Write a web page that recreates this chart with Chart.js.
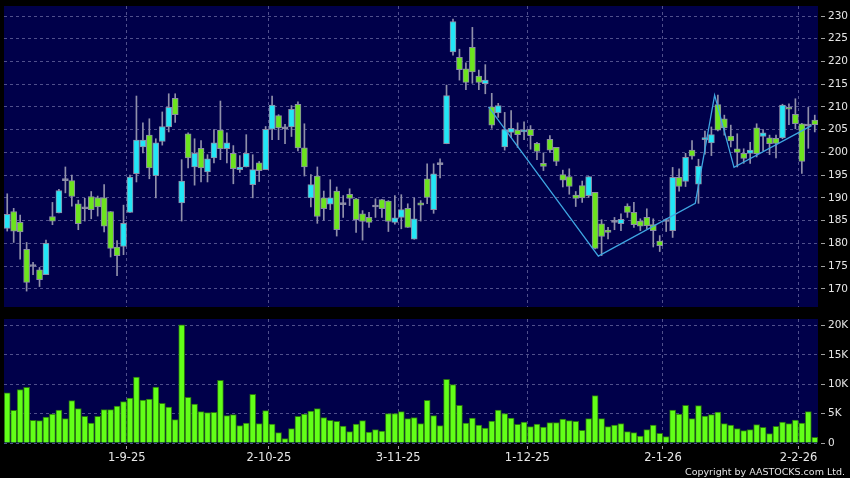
<!DOCTYPE html>
<html>
<head>
<meta charset="utf-8">
<script src="https://cdn.jsdelivr.net/npm/chart.js@4.4.1/dist/chart.umd.min.js"></script>
<style>
  html, body { margin: 0; padding: 0; background: #000; }
  #wrap { position: relative; width: 850px; height: 478px; overflow: hidden; background: #000; }
  #priceChart { position: absolute; left: 0; top: 0; }
  #volChart { position: absolute; left: 0; top: 310px; }
  #copy { position: absolute; right: 5px; top: 466px; line-height: 11px;
          color: #e4e4e4; font-family: "DejaVu Sans"; font-size: 9.5px; white-space: nowrap; }
</style>
</head>
<body>
<div id="wrap">
  <canvas id="priceChart" width="850" height="310"></canvas>
  <canvas id="volChart" width="850" height="168"></canvas>
  <div id="copy">Copyright by AASTOCKS.com Ltd.</div>
</div>
<script>
// trading days (D-M-YY)
const dates = [
  "6-8-25", "7-8-25", "8-8-25", "11-8-25", "12-8-25", "13-8-25", "14-8-25", "15-8-25", "18-8-25", "19-8-25",
  "20-8-25", "21-8-25", "22-8-25", "25-8-25", "26-8-25", "27-8-25", "28-8-25", "29-8-25",
  "1-9-25", "2-9-25", "3-9-25", "4-9-25", "5-9-25", "8-9-25", "9-9-25", "10-9-25", "11-9-25", "12-9-25",
  "15-9-25", "16-9-25", "17-9-25", "18-9-25", "19-9-25", "22-9-25", "23-9-25", "24-9-25", "25-9-25", "26-9-25",
  "29-9-25", "30-9-25",
  "2-10-25", "3-10-25", "6-10-25", "8-10-25", "9-10-25", "10-10-25", "13-10-25", "14-10-25", "15-10-25", "16-10-25",
  "17-10-25", "20-10-25", "21-10-25", "22-10-25", "23-10-25", "24-10-25", "27-10-25", "28-10-25", "30-10-25", "31-10-25",
  "3-11-25", "4-11-25", "5-11-25", "6-11-25", "7-11-25", "10-11-25", "11-11-25", "12-11-25", "13-11-25", "14-11-25",
  "17-11-25", "18-11-25", "19-11-25", "20-11-25", "21-11-25", "24-11-25", "25-11-25", "26-11-25", "27-11-25", "28-11-25",
  "1-12-25", "2-12-25", "3-12-25", "4-12-25", "5-12-25", "8-12-25", "9-12-25", "10-12-25", "11-12-25", "12-12-25",
  "15-12-25", "16-12-25", "17-12-25", "18-12-25", "19-12-25", "22-12-25", "23-12-25", "24-12-25", "29-12-25", "30-12-25",
  "31-12-25",
  "2-1-26", "5-1-26", "6-1-26", "7-1-26", "8-1-26", "9-1-26", "12-1-26", "13-1-26", "14-1-26", "15-1-26",
  "16-1-26", "19-1-26", "20-1-26", "21-1-26", "22-1-26", "23-1-26", "26-1-26", "27-1-26", "28-1-26", "29-1-26",
  "30-1-26",
  "2-2-26", "3-2-26", "4-2-26", "5-2-26"
];

const tickDates = ["1-9-25", "2-10-25", "3-11-25", "1-12-25", "2-1-26", "2-2-26"];
const priceTicks = [170, 175, 180, 185, 190, 195, 200, 205, 210, 215, 220, 225, 230];
const volTicks = [0, 5000, 10000, 15000, 20000];

const opens = [
  183.3, 187.0, 184.6, 178.7, 174.9, 174.2, 173.1, 185.9, 186.7, 193.8,
  193.8, 188.7, 187.6, 190.3, 190.0, 190.0, 187.0, 179.2, 179.3, 186.8,
  195.3, 201.2, 203.8, 194.9, 202.4, 205.6, 211.9, 188.9, 204.1, 196.8,
  200.9, 195.7, 198.8, 204.9, 200.8, 199.8, 196.2, 196.8, 192.9, 197.7,
  196.2, 205.1, 208.1, 205.2, 205.6, 210.6, 201.0, 190.0, 194.8, 190.0,
  188.6, 191.5, 188.5, 190.8, 189.8, 186.5, 185.7, 188.0, 189.6, 189.3,
  184.6, 185.7, 187.7, 180.9, 188.9, 194.2, 187.4, 197.3, 201.9, 222.1,
  220.9, 218.4, 223.1, 216.8, 215.1, 210.0, 208.7, 201.2, 204.4, 204.9,
  204.5, 205.1, 202.0, 197.6, 202.9, 201.1, 195.1, 194.7, 190.6, 192.7,
  190.5, 191.2, 184.3, 182.9, 184.6, 184.3, 188.2, 186.8, 184.9, 185.7,
  184.1, 180.5, 184.8, 182.8, 194.5, 193.6, 200.5, 193.0, 202.8, 202.1,
  210.5, 207.4, 203.6, 200.8, 199.8, 199.8, 205.4, 203.5, 203.2, 203.1,
  203.2, 209.9, 208.4, 206.3, 205.8, 207.1
];
const highs = [
  190.9, 187.7, 186.2, 180.2, 175.8, 174.7, 180.7, 189.0, 191.9, 196.8,
  195.0, 189.5, 189.9, 191.4, 190.4, 192.9, 187.0, 180.6, 188.4, 195.0,
  212.4, 206.5, 207.4, 203.0, 208.9, 212.9, 212.9, 198.4, 204.3, 203.0,
  202.6, 199.5, 205.0, 211.3, 204.3, 201.5, 199.3, 203.9, 199.5, 198.0,
  205.7, 212.4, 208.3, 206.2, 210.3, 211.1, 206.3, 195.1, 196.8, 191.5,
  194.0, 192.4, 190.5, 192.0, 189.9, 187.2, 186.8, 189.8, 189.7, 189.4,
  190.5, 190.7, 188.7, 190.0, 189.4, 197.5, 197.5, 198.6, 214.8, 229.3,
  222.7, 219.7, 227.5, 218.1, 219.3, 213.0, 210.8, 208.8, 209.2, 206.5,
  206.7, 205.9, 202.2, 199.9, 203.7, 201.1, 196.1, 196.4, 191.4, 193.7,
  194.7, 191.2, 185.2, 183.5, 185.7, 186.5, 188.7, 189.0, 185.4, 187.6,
  185.4, 181.7, 185.4, 196.7, 196.4, 199.8, 202.6, 198.5, 204.7, 205.6,
  212.6, 208.2, 206.0, 204.1, 200.8, 202.2, 206.3, 205.0, 203.8, 203.8,
  210.6, 210.7, 211.8, 206.4, 209.9, 208.2
];
const lows = [
  182.7, 180.2, 176.5, 169.5, 173.1, 170.5, 173.1, 184.1, 186.7, 191.1,
  188.2, 183.0, 184.9, 185.4, 186.0, 182.5, 177.0, 172.9, 177.5, 186.8,
  193.5, 199.9, 194.2, 190.0, 201.6, 204.5, 206.6, 184.9, 196.6, 192.8,
  193.5, 193.5, 197.7, 198.4, 197.7, 193.1, 195.6, 196.8, 190.0, 193.6,
  196.2, 202.8, 202.8, 201.9, 203.5, 200.3, 194.8, 188.0, 184.4, 185.1,
  187.4, 181.6, 185.7, 188.3, 182.4, 180.7, 183.5, 185.7, 185.7, 182.6,
  184.2, 183.2, 183.5, 180.9, 184.9, 188.7, 186.6, 194.4, 201.9, 221.4,
  215.9, 213.8, 215.2, 213.8, 212.9, 205.3, 207.7, 200.5, 203.3, 201.1,
  202.8, 200.7, 198.4, 196.0, 200.0, 197.1, 192.4, 190.8, 188.1, 189.0,
  190.1, 178.8, 177.3, 181.0, 183.0, 182.8, 185.7, 183.5, 182.8, 183.2,
  179.2, 178.2, 182.6, 181.3, 191.5, 192.5, 198.5, 188.8, 199.6, 199.3,
  204.7, 203.8, 201.2, 196.8, 197.6, 197.6, 199.0, 200.4, 199.5, 198.8,
  203.0, 206.1, 205.2, 195.4, 200.9, 204.5
];
const closes = [
  186.4, 182.7, 182.5, 171.4, 174.9, 172.0, 180.0, 184.9, 191.6, 193.8,
  190.3, 184.3, 187.6, 187.4, 188.0, 183.8, 178.9, 177.3, 184.4, 194.6,
  202.7, 202.7, 196.6, 202.1, 205.7, 209.9, 208.3, 193.7, 198.8, 199.8,
  196.6, 198.6, 202.1, 200.8, 202.1, 196.4, 196.8, 199.8, 196.2, 196.0,
  205.1, 210.4, 205.4, 205.2, 209.5, 201.0, 196.8, 192.9, 185.9, 187.6,
  190.0, 183.0, 188.5, 189.9, 185.2, 184.8, 184.6, 188.0, 187.6, 184.8,
  185.6, 187.4, 183.5, 185.4, 188.4, 190.1, 195.3, 197.3, 212.5, 228.8,
  218.2, 215.4, 217.7, 215.4, 215.9, 206.0, 210.3, 205.0, 205.3, 203.9,
  204.8, 203.7, 200.2, 196.9, 200.5, 198.0, 193.9, 192.5, 189.9, 190.0,
  194.7, 178.9, 181.5, 182.4, 184.6, 185.3, 186.8, 184.1, 183.8, 183.9,
  182.8, 179.5, 184.8, 194.5, 192.5, 198.9, 199.2, 197.0, 203.2, 203.9,
  204.9, 205.4, 202.5, 200.0, 198.7, 200.5, 199.7, 204.3, 201.9, 202.0,
  210.4, 209.5, 206.3, 198.0, 205.8, 206.1
];
const volumes = [
  8550, 5550, 9070, 9460, 3850, 3800, 4420, 4930, 5610, 4140,
  7200, 5840, 4530, 3400, 4530, 5670, 5670, 6290, 7030, 7650,
  11220, 7310, 7480, 9520, 6740, 6120, 3970, 20100, 7760, 6630,
  5330, 5160, 5210, 10650, 4650, 4820, 2950, 3400, 8270, 3290,
  5500, 3230, 1760, 740, 2440, 4530, 4930, 5440, 5840, 4310,
  3850, 3680, 2890, 1930, 3230, 3800, 1870, 2270, 2040, 4990,
  4990, 5330, 4140, 4310, 3290, 7250, 4650, 2950, 10820, 9920,
  6400, 3400, 4250, 3060, 2550, 3740, 5610, 4990, 4250, 3170,
  3570, 2780, 3230, 2720, 3460, 3460, 4080, 3800, 3680, 2150,
  4140, 8050, 4140, 2780, 3060, 3290, 1930, 1760, 1190, 2270,
  3060, 1640, 1080, 5610, 4930, 6400, 4140, 6350, 4590, 4820,
  5270, 3290, 3060, 2440, 2100, 2270, 3120, 2660, 1590, 2830,
  3570, 3290, 3910, 3400, 5330, 960
];

// trend line drawn over the candles (x = day index)
const trendX = [74.5, 91.5, 106.5, 109.5, 112.5, 124.5];
const trendY = [210.0, 177.2, 188.8, 212.6, 196.7, 205.9];

const NAVY = "#00004a";
const GRID = "#50508c";
const UP = "#22e6f6";
const DOWN = "#6ce41e";
const TXT = "#e6e6e6";

const tickIdx = tickDates.map(d => dates.indexOf(d) + 0.5);

const plotBg = {
  id: "plotBg",
  beforeDraw(chart) {
    const { ctx, chartArea: a } = chart;
    ctx.save();
    ctx.fillStyle = NAVY;
    ctx.fillRect(a.left, a.top, a.right - a.left, a.bottom - a.top);
    ctx.restore();
  }
};

function xAxis(showLabels) {
  return {
    type: "linear",
    min: -0.5,
    max: dates.length - 0.5,
    offset: false,
    afterBuildTicks: s => { s.ticks = tickIdx.map(v => ({ value: v })); },
    afterFit: s => {
      s.height = showLabels ? 35 : 0;
      s.paddingLeft = 0;
      s.paddingRight = 0;
    },
    border: { display: false, dash: [3, 3] },
    grid: {
      color: GRID, offset: false,
      drawTicks: showLabels, tickLength: 7, tickColor: "#a0a0a0",
      tickBorderDash: [0, 3, 3, 50]
    },
    ticks: {
      display: showLabels,
      autoSkip: false,
      maxRotation: 0,
      padding: 1,
      color: TXT,
      font: { family: "DejaVu Sans", size: 11.5 },
      callback: v => dates[Math.floor(v)]
    }
  };
}

function yAxis(min, max, ticks, fmt) {
  return {
    position: "right",
    min: min,
    max: max,
    afterBuildTicks: s => { s.ticks = ticks.map(v => ({ value: v })); },
    afterFit: s => {
      s.width = 32;
      s.paddingTop = 0;
      s.paddingBottom = 0;
    },
    border: { display: false, dash: [3, 3] },
    grid: {
      color: GRID, tickLength: 7, tickColor: "#a0a0a0",
      tickBorderDash: [0, 3, 4, 50]
    },
    ticks: {
      padding: 3,
      color: TXT,
      font: { family: "DejaVu Sans", size: 10.5 },
      callback: fmt
    }
  };
}

const idx = dates.map((d, i) => i);
const candleColor = i => closes[i] > opens[i] ? UP : (closes[i] < opens[i] ? DOWN : "#9a9ab0");

new Chart(document.getElementById("priceChart"), {
  type: "bar",
  data: {
    datasets: [
      {
        type: "line",
        data: trendX.map((x, i) => ({ x: x, y: trendY[i] })),
        borderColor: "#3ea6e2",
        borderWidth: 1.3,
        pointRadius: 0,
        tension: 0,
        order: -1
      },
      {
        data: idx.map(i => ({ x: i, y: [opens[i], closes[i]] })),
        backgroundColor: ctx => candleColor(ctx.dataIndex),
        borderColor: "#8c8ca6",
        borderWidth: 1,
        borderSkipped: false,
        barThickness: 6,
        minBarLength: 2,
        grouped: false,
        order: 0
      },
      {
        data: idx.map(i => ({ x: i, y: [lows[i], highs[i]] })),
        backgroundColor: "#9090aa",
        borderWidth: 0,
        barThickness: 1,
        grouped: false,
        order: 1
      }
    ]
  },
  options: {
    responsive: false,
    animation: false,
    layout: { padding: { left: 4, top: 6, right: 0, bottom: 3 } },
    plugins: { legend: { display: false }, tooltip: { enabled: false } },
    scales: {
      x: xAxis(false),
      y: yAxis(166, 232.2, priceTicks, v => String(v))
    }
  },
  plugins: [plotBg]
});

new Chart(document.getElementById("volChart"), {
  type: "bar",
  data: {
    datasets: [
      {
        data: idx.map(i => ({ x: i, y: volumes[i] })),
        backgroundColor: "#62ff18",
        borderColor: "#2a7212",
        borderWidth: 1,
        barThickness: 6,
        grouped: false
      }
    ]
  },
  options: {
    responsive: false,
    animation: false,
    layout: { padding: { left: 4, top: 9, right: 0, bottom: 0 } },
    plugins: { legend: { display: false }, tooltip: { enabled: false } },
    scales: {
      x: xAxis(true),
      y: yAxis(0, 21100, volTicks, v => v === 0 ? "0" : (v / 1000) + "K")
    }
  },
  plugins: [plotBg]
});
</script>
</body>
</html>
